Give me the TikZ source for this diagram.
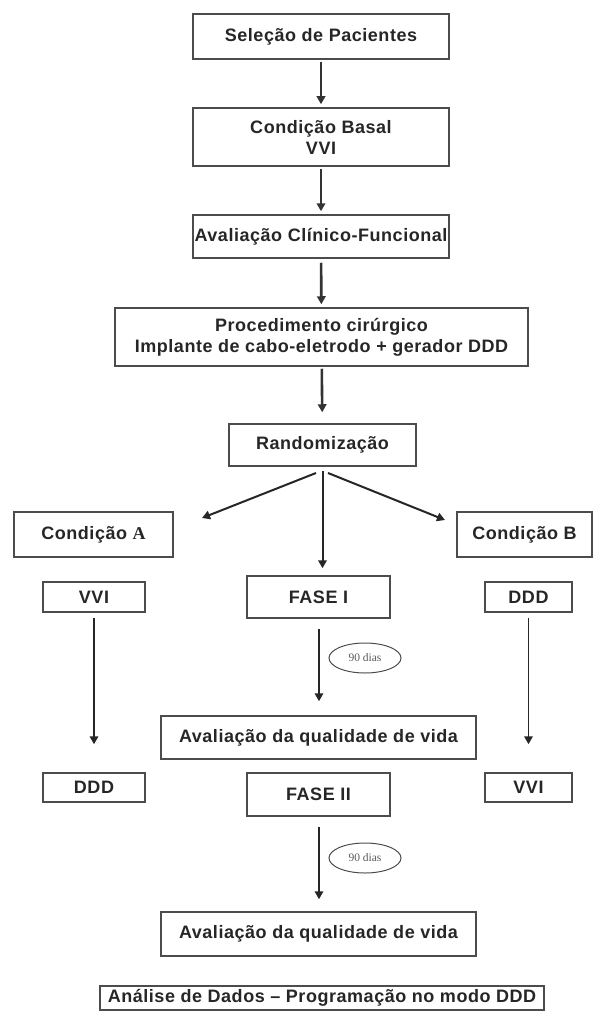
\documentclass[tikz,border=0pt]{standalone}
\usepackage{fontspec}
\setmainfont{Liberation Sans}[LetterSpace=3]
\newfontfamily\serifA{Liberation Serif}
\usepackage{tikz}
\usetikzlibrary{arrows.meta, positioning, shapes}

\begin{document}
\begin{tikzpicture}[x=1pt,y=-1pt,>={Triangle[length=8pt,width=8.5pt]},
    box/.style={draw=black!70, line width=1.5pt, inner sep=0pt, align=center,
        text=black!85, font=\fontsize{18}{21}\selectfont\bfseries},
    days/.style={ellipse, draw=black!70, line width=1pt, inner sep=0pt,
        minimum width=72pt, minimum height=30pt, text=black!65,
        font=\serifA\fontsize{11.5}{12}\selectfont},
    thickarr/.style={->, line width=2.6pt, draw=black!80},
    arr/.style={->, line width=1.8pt, draw=black!85}]
    \useasboundingbox (0,0) rectangle (593,1011);

    % main sequence
    \node[box, minimum width=256pt, minimum height=45pt] (sel) at (321,36.5) {Seleção de Pacientes};
    \node[box, minimum width=256pt, minimum height=58pt] (basal) at (321,137) {Condição Basal\\VVI};
    \node[box, minimum width=256pt, minimum height=43pt] (aval) at (321,236.5) {Avaliação Clínico-Funcional};
    \node[box, minimum width=413pt, minimum height=58pt] (proc) at (321.5,337) {Procedimento cirúrgico\\Implante de cabo-eletrodo + gerador DDD};
    \node[box, minimum width=187pt, minimum height=42pt] (rand) at (322.5,445) {Randomização};

    \draw[thickarr, shorten <=2pt, shorten >=3pt] (sel) -- (basal);
    \draw[thickarr, shorten <=2pt, shorten >=3pt] (basal) -- (aval);
    \draw[thickarr, shorten <=4pt, shorten >=3pt] (aval) -- (proc);
    \draw[thickarr, shorten <=2pt, shorten >=11pt] (proc) -- (rand);

    % condition A (left)
    \node[box, minimum width=159pt, minimum height=45pt] (condA) at (93.5,534.5) {Condição {\serifA A}};
    \node[box, minimum width=102pt, minimum height=30pt] (vviA) at (94,597) {VVI};
    \node[box, minimum width=102pt, minimum height=29pt] (dddA) at (94,787.5) {DDD};
    \draw[arr, shorten <=5pt, shorten >=28pt] (vviA) -- (dddA);

    % condition B (right)
    \node[box, minimum width=135pt, minimum height=45pt] (condB) at (524.5,534.5) {Condição B};
    \node[box, minimum width=87pt, minimum height=30pt] (dddB) at (528.5,597) {DDD};
    \node[box, minimum width=87pt, minimum height=29pt] (vviB) at (528.5,787.5) {VVI};
    \draw[arr, shorten <=5pt, shorten >=28pt] (dddB) -- (vviB);

    % phases
    \node[box, minimum width=143pt, minimum height=42pt] (fase1) at (318.5,597) {FASE I};
    \node[box, minimum width=315pt, minimum height=43pt] (qv1) at (318.5,737.5) {Avaliação da qualidade de vida};
    \node[box, minimum width=143pt, minimum height=43pt] (fase2) at (318.5,794.5) {FASE II};
    \node[box, minimum width=315pt, minimum height=44pt] (qv2) at (318.5,934) {Avaliação da qualidade de vida};
    \node[days] (d1) at (365,658) {90 dias};
    \node[days] (d2) at (365,858) {90 dias};
    \draw[arr, shorten <=10pt, shorten >=14pt] (fase1.south -| 319,0) -- (qv1.north -| 319,0);
    \draw[arr, shorten <=10pt, shorten >=12pt] (fase2.south -| 319,0) -- (qv2.north -| 319,0);

    % randomisation branches
    \coordinate (endA) at (202,518);
    \coordinate (endB) at (445,520);
    \draw[arr, line width=2pt] (316,473) -- (endA);
    \draw[arr, line width=2pt] (328,473) -- (endB);
    \draw[arr, line width=2pt, shorten <=4pt, shorten >=7pt] (rand) -- (fase1.north -| rand);

    % final box
    \node[box, minimum width=444pt, minimum height=24pt] (analise) at (322,998) {Análise de Dados -- Programação no modo DDD};
\end{tikzpicture}
\end{document}
